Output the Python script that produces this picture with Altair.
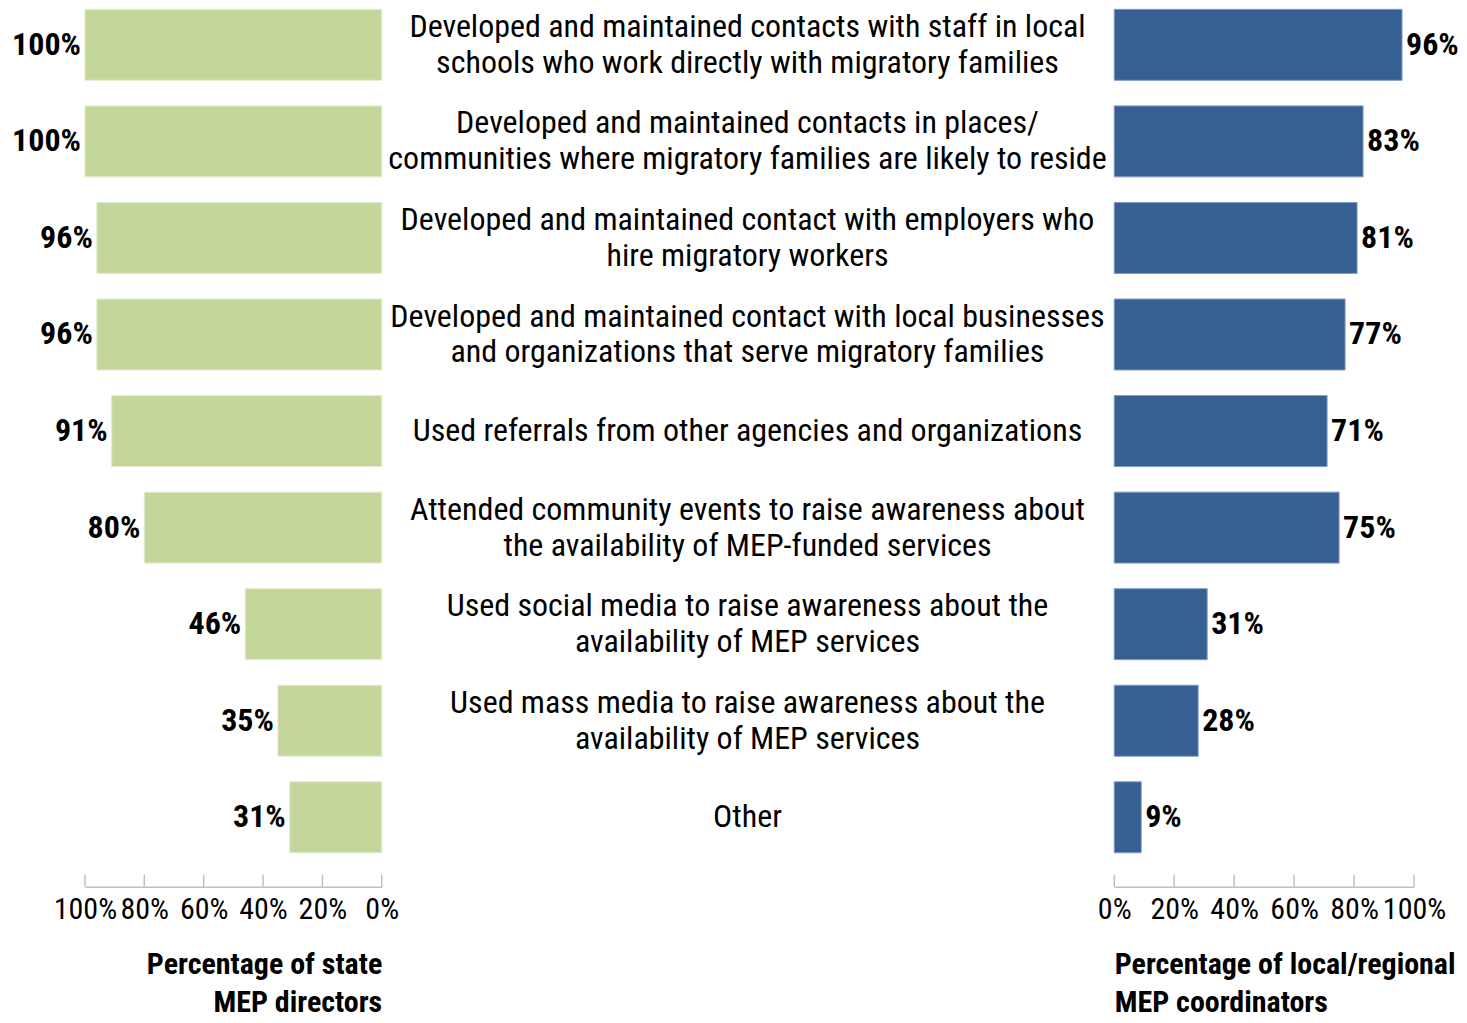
import altair as alt
import pandas as pd

activities = [
    "Developed and maintained contacts with staff in local\nschools who work directly with migratory families",
    "Developed and maintained contacts in places/\ncommunities where migratory families are likely to reside",
    "Developed and maintained contact with employers who\nhire migratory workers",
    "Developed and maintained contact with local businesses\nand organizations that serve migratory families",
    "Used referrals from other agencies and organizations",
    "Attended community events to raise awareness about\nthe availability of MEP-funded services",
    "Used social media to raise awareness about the\navailability of MEP services",
    "Used mass media to raise awareness about the\navailability of MEP services",
    "Other",
]
state_pct = [100, 100, 96, 96, 91, 80, 46, 35, 31]
local_pct = [96, 83, 81, 77, 71, 75, 31, 28, 9]
tick_values = [0, 20, 40, 60, 80, 100]

df = pd.DataFrame({
    "id": list(range(len(activities))),
    "activity": activities,
    "state": state_pct,
    "local": local_pct,
})
df["state_label"] = df["state"].astype(str) + "%"
df["local_label"] = df["local"].astype(str) + "%"
df["two_lines"] = df["activity"].str.contains("\n")
ticks_df = pd.DataFrame({"t": tick_values})

FONT = "Roboto Condensed"
H = 844
AXIS_OFF = 34
GREEN = "#C4D79B"
BLUE = "#376092"
GRAY = "#BFBFBF"
LH = 36

yenc = alt.Y("id:O", axis=None,
             scale=alt.Scale(type="band", paddingInner=0.265, paddingOuter=0))


def make_axis(title, anchor, align):
    return alt.Axis(values=tick_values, labelExpr="datum.value + '%'", grid=False,
                    ticks=False, domainColor=GRAY, domainWidth=1.5, offset=AXIS_OFF,
                    labelFont=FONT, labelFontSize=30, labelColor="black", labelPadding=8,
                    labelFlush=False, labelOverlap=False,
                    title=title, titleFont=FONT, titleFontSize=30, titleFontWeight="bold",
                    titleColor="black", titleAnchor=anchor, titleAlign=align,
                    titlePadding=25, titleLineHeight=38)


# Left panel (state directors)
lx_scale = alt.Scale(domain=[0, 100], reverse=True)
left_bars = alt.Chart(df).mark_bar(color=GREEN, stroke="#E4ECD2", strokeWidth=1).encode(
    x=alt.X("state:Q", scale=lx_scale,
            axis=make_axis(["Percentage of state", "MEP directors"], "start", "right")),
    y=yenc,
)
left_text = alt.Chart(df).mark_text(align="right", baseline="middle", dx=-4,
                                    font=FONT, fontSize=32, fontWeight="bold", color="black").encode(
    x=alt.X("state:Q", scale=lx_scale), y=yenc, text="state_label:N")
left_ticks = alt.Chart(ticks_df).mark_rule(color=GRAY, strokeWidth=1.5).encode(
    x=alt.X("t:Q", scale=lx_scale), y=alt.value(H + AXIS_OFF - 12), y2=alt.value(H + AXIS_OFF))
left = alt.layer(left_bars, left_text, left_ticks).properties(width=297, height=H)

# Center panel (activity labels)
center_two = alt.Chart(df).transform_filter("datum.two_lines").mark_text(
    align="center", baseline="middle", lineBreak="\n", dy=-LH / 2,
    font=FONT, fontSize=32, lineHeight=LH, color="black").encode(
    x=alt.value(366), y=yenc, text="activity:N")
center_one = alt.Chart(df).transform_filter("!datum.two_lines").mark_text(
    align="center", baseline="middle",
    font=FONT, fontSize=32, color="black").encode(
    x=alt.value(366), y=yenc, text="activity:N")
center = alt.layer(center_two, center_one).properties(width=733, height=H)

# Right panel (local coordinators)
rx_scale = alt.Scale(domain=[0, 100])
right_bars = alt.Chart(df).mark_bar(color=BLUE, stroke="#7F9CC4", strokeWidth=1).encode(
    x=alt.X("local:Q", scale=rx_scale,
            axis=make_axis(["Percentage of local/regional", "MEP coordinators"], "start", "left")),
    y=yenc,
)
right_text = alt.Chart(df).mark_text(align="left", baseline="middle", dx=4,
                                     font=FONT, fontSize=32, fontWeight="bold", color="black").encode(
    x=alt.X("local:Q", scale=rx_scale), y=yenc, text="local_label:N")
right_ticks = alt.Chart(ticks_df).mark_rule(color=GRAY, strokeWidth=1.5).encode(
    x=alt.X("t:Q", scale=rx_scale), y=alt.value(H + AXIS_OFF - 12), y2=alt.value(H + AXIS_OFF))
right = alt.layer(right_bars, right_text, right_ticks).properties(width=300, height=H)

chart = alt.hconcat(left, center, right, spacing=0, bounds="flush").properties(
    padding={"left": 4, "top": 0, "right": 0, "bottom": 0}
).configure_view(stroke=None)

chart.save("out.html", embed_options={"renderer": "svg", "actions": False})
